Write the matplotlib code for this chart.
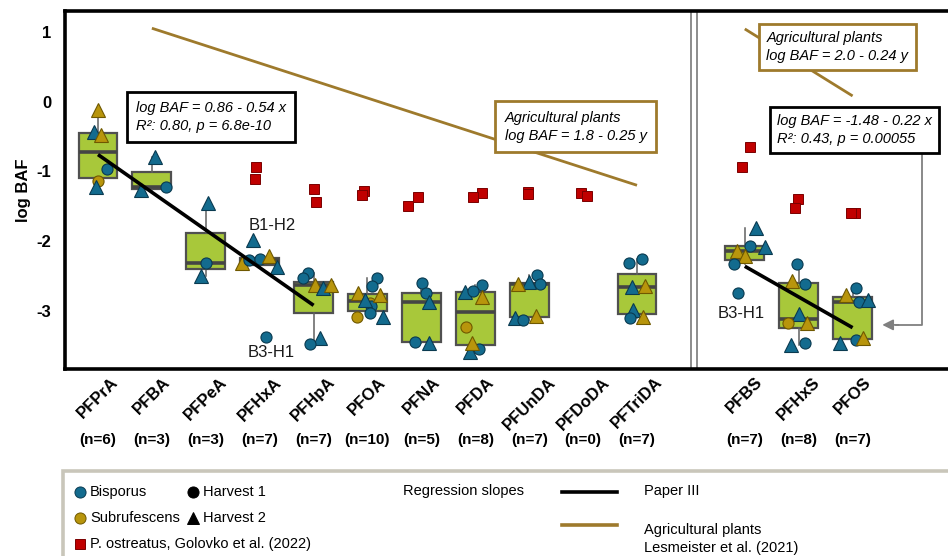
import numpy as np
import matplotlib.pyplot as plt
import matplotlib.transforms as mtransforms
from matplotlib.lines import Line2D
from matplotlib.patches import Rectangle

plt.rcParams['font.family'] = ['Liberation Sans', 'DejaVu Sans']

compounds = ['PFPrA', 'PFBA', 'PFPeA', 'PFHxA', 'PFHpA', 'PFOA', 'PFNA',
             'PFDA', 'PFUnDA', 'PFDoDA', 'PFTriDA', 'PFBS', 'PFHxS', 'PFOS']
n_samples = [6, 3, 3, 7, 7, 10, 5, 8, 7, 0, 7, 7, 8, 7]

# (species, harvest, log BAF, x jitter)  species: B = bisporus, S = subrufescens
pfpra = [('S', 2, -0.12, 0.0), ('B', 2, -0.44, -0.07), ('S', 2, -0.48, 0.06),
         ('B', 1, -0.97, 0.17), ('S', 1, -1.14, 0.0), ('B', 2, -1.22, -0.04)]
pfba = [('B', 2, -0.80, 0.06), ('B', 1, -1.23, 0.26), ('B', 2, -1.27, -0.20)]
pfpea = [('B', 2, -1.45, 0.04), ('B', 1, -2.31, 0.0), ('B', 2, -2.50, -0.09)]
pfhxa = [('B', 2, -1.99, -0.13), ('S', 2, -2.32, -0.33), ('B', 1, -2.27, -0.19),
         ('B', 1, -2.26, 0.0), ('S', 2, -2.21, 0.17), ('B', 2, -2.37, 0.32),
         ('B', 1, -3.38, 0.11)]
pfhpa = [('B', 1, -2.45, -0.11), ('B', 1, -2.53, -0.19), ('S', 2, -2.63, 0.02),
         ('B', 2, -2.67, 0.17), ('S', 2, -2.63, 0.32), ('B', 2, -3.39, 0.11),
         ('B', 1, -3.47, -0.06)]
pfoa = [('S', 1, -2.88, 0.04), ('B', 1, -2.93, 0.06), ('B', 1, -2.53, 0.17),
        ('B', 1, -2.65, 0.09), ('S', 2, -2.75, -0.17), ('S', 2, -2.77, 0.24),
        ('B', 2, -2.84, -0.04), ('S', 1, -3.08, -0.20), ('B', 1, -3.03, 0.04),
        ('B', 2, -3.08, 0.28)]
pfna = [('B', 1, -2.60, 0.02), ('B', 1, -2.74, 0.09), ('B', 2, -2.87, 0.15),
        ('B', 1, -3.44, -0.11), ('B', 2, -3.46, 0.15)]
pfda = [('B', 1, -2.63, 0.13), ('B', 2, -2.73, -0.20), ('B', 1, -2.71, -0.04),
        ('S', 2, -2.80, 0.13), ('S', 1, -3.23, -0.17), ('B', 1, -3.55, 0.07),
        ('B', 2, -3.59, -0.09), ('S', 2, -3.46, -0.07)]
pfunda = [('B', 1, -2.49, 0.15), ('B', 1, -2.61, 0.20), ('B', 2, -2.58, 0.0),
          ('S', 2, -2.62, -0.20), ('B', 2, -3.10, -0.26), ('B', 1, -3.13, -0.11),
          ('S', 2, -3.07, 0.13)]
pfdoda = []
pftrida = [('B', 1, -2.31, -0.15), ('B', 1, -2.25, 0.09), ('B', 2, -2.66, -0.09),
           ('S', 2, -2.64, 0.15), ('B', 2, -2.99, -0.07), ('B', 1, -3.10, -0.13),
           ('S', 2, -3.09, 0.11)]
pfbs = [('B', 2, -1.81, 0.20), ('B', 1, -2.07, 0.09), ('B', 2, -2.08, 0.37),
        ('S', 2, -2.14, -0.15), ('S', 2, -2.22, 0.0), ('B', 1, -2.33, -0.20),
        ('B', 1, -2.74, -0.13)]
pfhxs = [('B', 1, -2.33, -0.04), ('S', 2, -2.57, -0.13), ('B', 1, -2.61, 0.11),
         ('B', 2, -3.04, 0.0), ('S', 1, -3.18, -0.19), ('S', 2, -3.18, 0.15),
         ('B', 2, -3.49, -0.15), ('B', 1, -3.46, 0.11)]
pfos = [('B', 1, -2.67, 0.07), ('S', 2, -2.77, -0.13), ('B', 1, -2.87, 0.11),
        ('B', 2, -2.84, 0.28), ('B', 2, -3.46, -0.24), ('B', 1, -3.42, 0.07),
        ('S', 2, -3.39, 0.19)]
measured = [pfpra, pfba, pfpea, pfhxa, pfhpa, pfoa, pfna, pfda, pfunda,
            pfdoda, pftrida, pfbs, pfhxs, pfos]

# P. ostreatus, Golovko et al. (2022)
ostreatus_cmp = ['PFHxA', 'PFHxA', 'PFHpA', 'PFHpA', 'PFOA', 'PFOA', 'PFNA', 'PFNA',
                 'PFDA', 'PFDA', 'PFUnDA', 'PFUnDA', 'PFDoDA', 'PFDoDA',
                 'PFBS', 'PFBS', 'PFHxS', 'PFHxS', 'PFOS', 'PFOS']
ostreatus_val = [-0.94, -1.11, -1.25, -1.44, -1.28, -1.34, -1.37, -1.50,
                 -1.31, -1.37, -1.30, -1.33, -1.31, -1.35,
                 -0.65, -0.94, -1.40, -1.52, -1.59, -1.59]
ostreatus_dx = [-0.06, -0.09, 0.0, 0.04, -0.06, -0.11, -0.07, -0.24,
                0.13, -0.04, -0.02, -0.02, -0.04, 0.07,
                0.09, -0.06, -0.02, -0.06, 0.05, -0.03]

# regressions: intercept, slope, range of chain length
paper_carbox = (0.86, -0.54, [3, 7])
paper_sulfon = (-1.48, -0.22, [4, 8])
agri_carbox = (1.8, -0.25, [3, 12])
agri_sulfon = (2.0, -0.24, [4, 8])

BLUE = '#136b8e'
GOLD = '#b8950c'
RED = '#c00000'
BOXFILL = '#a8c83a'
BROWN = '#9e7a2c'
edge_of = {'B': '#0a3a50', 'S': '#6f5800'}
face_of = {'B': BLUE, 'S': GOLD}

xpos = list(range(11)) + [12, 13, 14]
pos_of = dict(zip(compounds, xpos))


def carbox_pos(c):
    return c - 3


def sulfon_pos(c):
    return 12 + (c - 4) / 2


fig = plt.figure(figsize=(9.48, 5.56), dpi=100)
ax = fig.add_axes([65 / 948, 1 - 369 / 556, 883 / 948, 358 / 556])

# boxes
for pos, pts in zip(xpos, measured):
    if not pts:
        continue
    vals = [p[2] for p in pts]
    ax.boxplot(vals, positions=[pos], widths=0.72, patch_artist=True,
               showfliers=False, showcaps=False, manage_ticks=False,
               boxprops=dict(facecolor=BOXFILL, edgecolor='#505050', linewidth=1.6),
               medianprops=dict(color='#454545', linewidth=2.6),
               whiskerprops=dict(color='#606060', linewidth=1.1),
               zorder=2)

# samples
for pos, pts in zip(xpos, measured):
    for sp, hv, val, dx in pts:
        ax.plot(pos + dx, val, marker='o' if hv == 1 else '^',
                ms=8 if hv == 1 else 9.5, mfc=face_of[sp], mec=edge_of[sp],
                mew=0.8, ls='none', zorder=3)

for cmp, val, dx in zip(ostreatus_cmp, ostreatus_val, ostreatus_dx):
    ax.plot(pos_of[cmp] + dx, val, marker='s', ms=7.5, mfc=RED, mec='#7a0000',
            mew=0.7, ls='none', zorder=3)

# regression lines
for (a, b, rng), to_pos, col, lw, z in [
        (paper_carbox, carbox_pos, 'black', 2.6, 5),
        (paper_sulfon, sulfon_pos, 'black', 2.6, 5),
        (agri_carbox, lambda c: c - 2, BROWN, 2.0, 1),
        (agri_sulfon, sulfon_pos, BROWN, 2.0, 1)]:
    c = np.array(rng, dtype=float)
    ax.plot([to_pos(v) for v in c], a + b * c, color=col, lw=lw,
            solid_capstyle='butt', zorder=z)

# separator between carboxylates and sulfonates
for xs in (11.0, 11.11):
    ax.axvline(xs, color='#8c8c8c', lw=1.4, zorder=1)

box_txt = dict(fontsize=10.5, style='italic', ha='left', va='center',
               linespacing=1.35, zorder=6)
ax.text(0.70, -0.22, 'log BAF = 0.86 - 0.54 x\nR²: 0.80, p = 6.8e-10',
        bbox=dict(boxstyle='square,pad=0.6', fc='white', ec='black', lw=2), **box_txt)
ax.text(7.55, -0.36, 'Agricultural plants\nlog BAF = 1.8 - 0.25 y',
        bbox=dict(boxstyle='square,pad=0.65', fc='white', ec=BROWN, lw=2), **box_txt)
ax.text(12.40, 0.78, 'Agricultural plants\nlog BAF = 2.0 - 0.24 y',
        bbox=dict(boxstyle='square,pad=0.5', fc='white', ec=BROWN, lw=2), **box_txt)
ax.text(12.60, -0.41, 'log BAF = -1.48 - 0.22 x\nR²: 0.43, p = 0.00055',
        bbox=dict(boxstyle='square,pad=0.5', fc='white', ec='black', lw=2), **box_txt)

# leader from the sulfonate equation to PFOS
ax.plot([15.29, 15.29, 14.8], [-0.77, -3.20, -3.20], color='#808080', lw=1.3, zorder=4)
ax.annotate('', xy=(14.55, -3.20), xytext=(14.85, -3.20),
            arrowprops=dict(arrowstyle='-|>', color='#808080', lw=1.3,
                            mutation_scale=16, shrinkA=0, shrinkB=0), zorder=4)

ax.text(3.23, -1.77, 'B1-H2', fontsize=12, ha='center', va='center', color='#1a1a1a')
ax.text(3.21, -3.60, 'B3-H1', fontsize=12, ha='center', va='center', color='#1a1a1a')
ax.text(11.93, -3.03, 'B3-H1', fontsize=12, ha='center', va='center', color='#1a1a1a')

ax.set_xlim(-0.612, 15.77)
ax.set_ylim(-3.832, 1.297)
ax.set_yticks([-3, -2, -1, 0, 1])
ax.set_yticklabels(['-3', '-2', '-1', '0', '1'], fontsize=12, fontweight='bold')
ax.set_xticks(xpos)
ax.set_xticklabels(compounds, fontsize=12, fontweight='bold', rotation=45,
                   ha='center', va='top')
ax.tick_params(axis='both', length=0)
ax.tick_params(axis='y', pad=10)
ax.tick_params(axis='x', pad=4)
ax.set_ylabel('log BAF', fontsize=12, fontweight='bold', labelpad=4)

for side in ('left', 'top', 'bottom'):
    ax.spines[side].set_linewidth(2.6)
ax.spines['right'].set_visible(False)

nrow = mtransforms.blended_transform_factory(ax.transData, fig.transFigure)
for pos, n in zip(xpos, n_samples):
    ax.text(pos, 1 - 440 / 556, f'(n={n})', transform=nrow, fontsize=11,
            fontweight='bold', ha='center', va='center')

# legend panel
W, H = 948, 556


def fx(px):
    return px / W


def fy(py):
    return 1 - py / H


fig.add_artist(Rectangle((fx(63), -0.1), 1.0, fy(471) + 0.1, transform=fig.transFigure,
                         fill=False, ec='#c9c6ba', lw=2.6))

leg_items = [
    (80, 492, 'o', BLUE, edge_of['B'], 8, 'Bisporus'),
    (80, 518, 'o', GOLD, edge_of['S'], 8, 'Subrufescens'),
    (80, 544, 's', RED, '#7a0000', 7, 'P. ostreatus, Golovko et al. (2022)'),
    (193, 492, 'o', 'black', 'black', 8, 'Harvest 1'),
    (193, 518, '^', 'black', 'black', 9, 'Harvest 2'),
]
for px, py, mk, fc, ec, ms, lab in leg_items:
    fig.add_artist(Line2D([fx(px)], [fy(py)], marker=mk, ms=ms, mfc=fc, mec=ec,
                          mew=0.7, ls='none', transform=fig.transFigure))
    fig.text(fx(px + 10), fy(py), lab, fontsize=10.5, va='center', ha='left')

fig.text(fx(403), fy(491), 'Regression slopes', fontsize=10.5, va='center')
fig.add_artist(Line2D([fx(562), fx(617)], [fy(492), fy(492)], color='black', lw=2.6,
                      transform=fig.transFigure))
fig.text(fx(644), fy(491), 'Paper III', fontsize=10.5, va='center')
fig.add_artist(Line2D([fx(562), fx(617)], [fy(525), fy(525)], color=BROWN, lw=2.6,
                      transform=fig.transFigure))
fig.text(fx(644), fy(539), 'Agricultural plants\nLesmeister et al. (2021)', fontsize=10.5,
         va='center', linespacing=1.4)

fig.savefig('out.png', dpi=100)
